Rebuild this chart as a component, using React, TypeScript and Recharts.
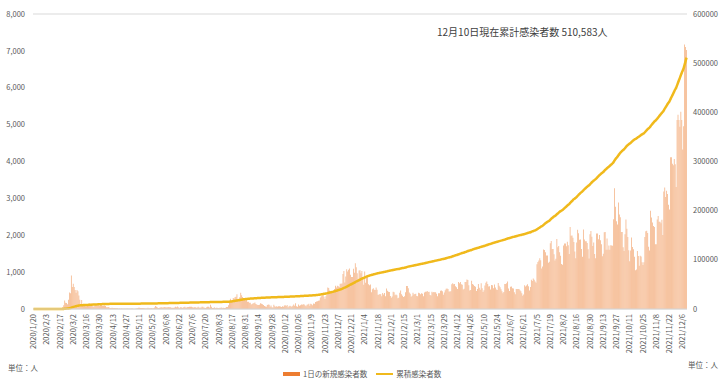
import React from "react";
import {
  ComposedChart,
  Bar,
  Line,
  XAxis,
  YAxis,
  CartesianGrid,
} from "recharts";

// daily new cases, one row per week (Mon-Sun), starting 2020/1/20
const weeks2020 = [
  [1, 0, 0, 0, 1, 0, 1],
  [1, 0, 0, 0, 5, 1, 3],
  [0, 1, 1, 0, 1, 0, 3],
  [3, 0, 0, 0, 0, 0, 1],
  [0, 1, 20, 53, 100, 229, 169],
  [161, 130, 253, 449, 427, 909, 595],
  [686, 600, 516, 438, 518, 483, 367],
  [248, 131, 242, 114, 110, 107, 76],
  [74, 84, 93, 152, 87, 147, 98],
  [64, 76, 100, 104, 91, 146, 105],
  [78, 125, 101, 89, 86, 94, 81],
  [47, 47, 53, 39, 27, 30, 32],
  [25, 27, 27, 22, 22, 18, 8],
  [13, 9, 11, 8, 6, 10, 10],
  [10, 14, 9, 4, 9, 6, 13],
  [8, 3, 2, 4, 12, 18, 34],
  [35, 27, 26, 29, 27, 19, 13],
  [15, 13, 32, 12, 20, 23, 25],
  [16, 19, 40, 79, 58, 39, 27],
  [35, 38, 49, 39, 39, 51, 57],
  [38, 50, 45, 56, 45, 49, 34],
  [37, 34, 43, 59, 49, 67, 48],
  [17, 46, 51, 28, 39, 51, 62],
  [42, 43, 51, 54, 63, 61, 63],
  [48, 44, 50, 45, 35, 44, 62],
  [33, 39, 33, 61, 60, 39, 34],
  [26, 45, 63, 59, 41, 113, 58],
  [25, 28, 48, 18, 36, 31, 30],
  [23, 33, 34, 43, 20, 36, 28],
  [34, 54, 56, 103, 166, 279, 197],
  [246, 297, 288, 324, 332, 397, 266],
  [280, 320, 441, 371, 323, 299, 248],
  [235, 267, 195, 198, 168, 167, 119],
  [136, 156, 155, 176, 136, 121, 109],
  [106, 113, 153, 145, 126, 110, 82],
  [70, 61, 110, 125, 114, 61, 95],
  [50, 38, 113, 77, 63, 75, 64],
  [73, 75, 69, 54, 72, 58, 98],
  [102, 84, 110, 47, 73, 91, 76],
  [58, 89, 121, 91, 155, 77, 61],
  [119, 88, 103, 125, 114, 127, 124],
  [97, 75, 118, 125, 145, 89, 143],
  [126, 100, 146, 143, 191, 205, 208],
  [223, 230, 313, 343, 363, 386, 330],
  [271, 349, 382, 583, 569, 504, 450],
  [438, 451, 511, 540, 629, 583, 631],
  [615, 594, 686, 682, 689, 950, 1030],
  [718, 880, 1078, 1014, 1064, 1097, 926],
  [869, 867, 1092, 985, 1241, 1132, 970],
  [807, 1045, 1050, 967, 1029, 824, 657],
];

const weeks2021 = [
  [1020, 715, 840, 869, 674, 641, 665],
  [451, 537, 562, 524, 513, 580, 520],
  [389, 386, 404, 400, 346, 431, 392],
  [437, 349, 559, 497, 469, 458, 355],
  [305, 336, 467, 451, 370, 393, 372],
  [289, 303, 444, 504, 403, 362, 326],
  [343, 457, 621, 621, 561, 448, 416],
  [332, 356, 440, 396, 406, 415, 355],
  [344, 444, 424, 398, 424, 416, 346],
  [446, 470, 465, 488, 459, 470, 382],
  [363, 469, 445, 463, 452, 456, 415],
  [346, 428, 430, 494, 505, 482, 384],
  [447, 506, 551, 557, 543, 477, 473],
  [478, 668, 700, 671, 677, 614, 587],
  [542, 731, 698, 731, 673, 658, 532],
  [549, 731, 735, 797, 785, 644, 499],
  [512, 769, 680, 661, 627, 606, 488],
  [541, 676, 574, 525, 701, 564, 463],
  [511, 635, 715, 747, 681, 610, 619],
  [528, 654, 646, 561, 666, 585, 530],
  [516, 707, 629, 587, 533, 480, 430],
  [459, 677, 681, 695, 744, 556, 485],
  [602, 611, 565, 556, 452, 399, 545],
  [540, 545, 540, 507, 482, 429, 357],
  [395, 645, 610, 634, 668, 614, 501],
  [595, 794, 762, 826, 794, 743, 711],
  [1212, 1275, 1316, 1378, 1324, 1100, 1150],
  [1615, 1600, 1536, 1452, 1454, 1252, 1278],
  [1781, 1842, 1630, 1629, 1487, 1318, 1363],
  [1895, 1674, 1710, 1539, 1442, 1219, 1202],
  [1725, 1775, 1776, 1704, 1823, 1729, 1492],
  [2223, 1987, 1990, 1930, 1817, 1556, 1373],
  [1805, 2152, 2051, 1880, 1882, 1628, 1418],
  [2155, 1882, 1840, 1836, 1793, 1619, 1372],
  [2025, 2116, 1961, 1709, 1804, 1490, 1375],
  [2050, 2049, 1892, 2005, 1865, 1755, 1433],
  [1497, 2079, 2085, 1605, 1910, 1604, 1720],
  [1605, 1729, 1720, 1715, 2434, 3273, 2771],
  [2383, 2289, 2885, 2564, 2486, 2085, 2086],
  [1673, 1575, 2028, 2427, 2175, 1953, 1594],
  [1297, 1584, 1940, 1684, 1618, 1420, 1050],
  [1073, 1571, 1440, 1175, 1441, 1423, 1265],
  [1190, 1266, 1952, 2111, 2124, 2061, 1686],
  [1589, 2667, 2482, 2344, 2248, 2224, 1758],
  [1759, 2425, 2520, 2368, 2368, 2324, 2419],
  [2006, 3187, 3292, 3034, 3206, 3120, 2827],
  [2699, 4115, 4116, 3938, 3901, 4068, 3925],
  [3308, 5123, 5266, 5123, 4944, 5352, 5128],
  [4325, 4954, 7175, 7102, 7022],
];

const startDate = new Date(2020, 0, 20);
const leftTicks = [0, 1000, 2000, 3000, 4000, 5000, 6000, 7000, 8000];
const rightTicks = [0, 100000, 200000, 300000, 400000, 500000, 600000];

const dailyCases = [...weeks2020, ...weeks2021].flat();

let running = 0;
const data = dailyCases.map((v, i) => {
  const d = new Date(startDate.getTime());
  d.setDate(d.getDate() + i);
  running += v;
  return {
    date: `${d.getFullYear()}/${d.getMonth() + 1}/${d.getDate()}`,
    daily: v,
    total: running,
  };
});

const font = "'Noto Sans CJK JP', 'Noto Sans', sans-serif";
const gray = "#595959";

function DateTick(props: any) {
  const { x, y, payload } = props;
  return (
    <g transform={`translate(${x},${y})`}>
      <text
        transform="rotate(-90)"
        x={-3}
        y={0}
        dy="0.35em"
        textAnchor="end"
        fontSize={7.5}
        fill={gray}
        fontFamily={font}
      >
        {payload.value}
      </text>
    </g>
  );
}

export default function App() {
  return (
    <div
      style={{
        position: "absolute",
        left: 0,
        top: 0,
        width: 720,
        height: 386,
        background: "#fff",
        fontFamily: font,
      }}
    >
      <ComposedChart
        width={720}
        height={386}
        data={data}
        margin={{ top: 14, right: 0, left: 0, bottom: 27 }}
        barCategoryGap="10%"
      >
        <CartesianGrid vertical={false} stroke="#d9d9d9" />
        <XAxis
          dataKey="date"
          interval={13}
          tick={<DateTick />}
          tickLine={false}
          tickSize={0}
          axisLine={{ stroke: "#d9d9d9" }}
          height={50}
        />
        <YAxis
          yAxisId="left"
          domain={[0, 8000]}
          ticks={leftTicks}
          width={33}
          axisLine={false}
          tickLine={false}
          tick={{ fontSize: 7.5, fill: gray, fontFamily: font }}
          tickFormatter={(v: number) => v.toLocaleString("en-US")}
        />
        <YAxis
          yAxisId="right"
          orientation="right"
          domain={[0, 600000]}
          ticks={rightTicks}
          width={33}
          axisLine={false}
          tickLine={false}
          tickSize={4}
          tick={{ fontSize: 7.5, fill: gray, fontFamily: font, textAnchor: "start" }}
        />
        <Bar
          yAxisId="left"
          dataKey="daily"
          fill="#f4b183"
          isAnimationActive={false}
        />
        <Line
          yAxisId="right"
          dataKey="total"
          type="monotone"
          stroke="#f0b91c"
          strokeWidth={2.5}
          dot={false}
          activeDot={false}
          isAnimationActive={false}
        />
      </ComposedChart>

      <div
        style={{
          position: "absolute",
          left: 437,
          top: 24,
          fontSize: 10,
          color: "#404040",
          whiteSpace: "nowrap",
        }}
      >
        12月10日現在累計感染者数 510,583人
      </div>
      <div style={{ position: "absolute", left: 8, top: 362, fontSize: 7.5, color: gray }}>
        単位：人
      </div>
      <div style={{ position: "absolute", left: 688, top: 359, fontSize: 7.5, color: gray }}>
        単位：人
      </div>
      <div
        style={{
          position: "absolute",
          left: 283,
          top: 368,
          display: "flex",
          alignItems: "center",
          fontSize: 7.5,
          color: gray,
          whiteSpace: "nowrap",
        }}
      >
        <span style={{ width: 17, height: 4, background: "#ed7d31", marginRight: 3 }} />
        <span>1日の新規感染者数</span>
        <span
          style={{ width: 17, height: 2, background: "#f0b91c", marginLeft: 9, marginRight: 3 }}
        />
        <span>累積感染者数</span>
      </div>
    </div>
  );
}
